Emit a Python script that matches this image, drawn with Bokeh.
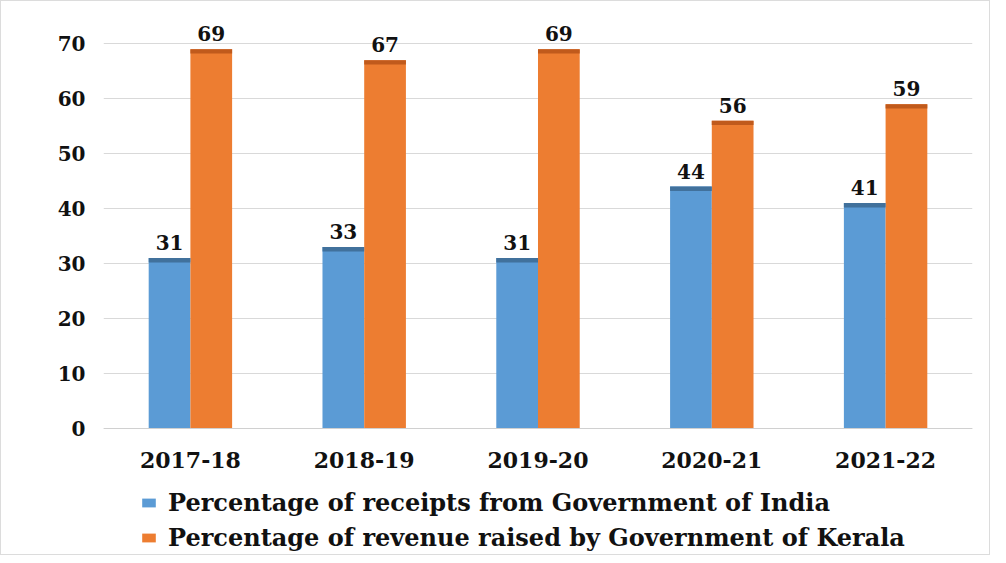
from bokeh.plotting import figure
from bokeh.models import ColumnDataSource, FactorRange, Range1d, FixedTicker, Legend, LegendItem
from bokeh.transform import dodge
from bokeh.core.properties import value
from bokeh.embed import file_html
from bokeh.resources import INLINE

years = ["2017-18", "2018-19", "2019-20", "2020-21", "2021-22"]
goi_share = [31, 33, 31, 44, 41]
kerala_share = [69, 67, 69, 56, 59]
series_names = ["Percentage of receipts from Government of India",
                "Percentage of revenue raised by Government of Kerala"]
y_ticks = [0, 10, 20, 30, 40, 50, 60, 70]

BLUE, BLUE_DARK = "#5B9BD5", "#41719C"
ORANGE, ORANGE_DARK = "#ED7D31", "#C05A1C"
FONT = "DejaVu Serif"
CAP = 0.8

src = ColumnDataSource(dict(
    year=years,
    goi=goi_share,
    ker=kerala_share,
    goi_cap=[v - CAP for v in goi_share],
    ker_cap=[v - CAP for v in kerala_share],
    goi_txt=[str(v) for v in goi_share],
    ker_txt=[str(v) for v in kerala_share],
))

p = figure(x_range=FactorRange(*years), y_range=Range1d(-23.3, 74.4),
           width=990, height=555, output_backend="svg", toolbar_location=None,
           min_border_left=102, min_border_right=19, min_border_top=18, min_border_bottom=0)
p.styles = {"border": "1px solid #dcdcdc", "box-sizing": "border-box"}
p.outline_line_color = None
p.background_fill_color = "white"

W = 0.24
r1 = p.vbar(x=dodge("year", -0.12, range=p.x_range), top="goi", width=W, source=src,
            fill_color=BLUE, line_color=None)
r2 = p.vbar(x=dodge("year", 0.12, range=p.x_range), top="ker", width=W, source=src,
            fill_color=ORANGE, line_color=None)
p.vbar(x=dodge("year", -0.12, range=p.x_range), top="goi", bottom="goi_cap", width=W, source=src,
       fill_color=BLUE_DARK, line_color=None)
p.vbar(x=dodge("year", 0.12, range=p.x_range), top="ker", bottom="ker_cap", width=W, source=src,
       fill_color=ORANGE_DARK, line_color=None)

for col, txt, off in (("goi", "goi_txt", -0.12), ("ker", "ker_txt", 0.12)):
    p.text(x=dodge("year", off, range=p.x_range), y=col, text=txt, source=src,
           text_font=value(FONT), text_font_style="bold", text_font_size="20px",
           text_color="#111111", text_align="center", text_baseline="bottom", y_offset=-8)

p.yaxis.ticker = FixedTicker(ticks=y_ticks)
p.yaxis.axis_line_color = None
p.yaxis.major_tick_line_color = None
p.yaxis.minor_tick_line_color = None
p.yaxis.major_label_text_font = FONT
p.yaxis.major_label_text_font_style = "bold"
p.yaxis.major_label_text_font_size = "20px"
p.yaxis.major_label_text_color = "#111111"
p.yaxis.major_label_standoff = 12

p.xaxis.fixed_location = 0
p.xaxis.axis_line_color = "#d0d0d0"
p.xaxis.major_tick_line_color = None
p.xaxis.minor_tick_line_color = None
p.xaxis.major_label_text_font = FONT
p.xaxis.major_label_text_font_style = "bold"
p.xaxis.major_label_text_font_size = "22px"
p.xaxis.major_label_text_color = "#111111"
p.xaxis.major_label_standoff = 18

p.xgrid.grid_line_color = None
p.ygrid.grid_line_color = "#d9d9d9"
p.ygrid.ticker = FixedTicker(ticks=y_ticks)

legend = Legend(items=[LegendItem(label=series_names[0], renderers=[r1]),
                       LegendItem(label=series_names[1], renderers=[r2])],
                location=(37, 4), orientation="vertical",
                label_text_font=FONT, label_text_font_style="bold",
                label_text_font_size="24px", label_text_color="#111111",
                glyph_width=17, glyph_height=11, label_standoff=11,
                spacing=6, padding=0, margin=0,
                border_line_color=None, background_fill_alpha=0)
p.add_layout(legend, "center")

open("out.html", "w").write(file_html(p, INLINE))
